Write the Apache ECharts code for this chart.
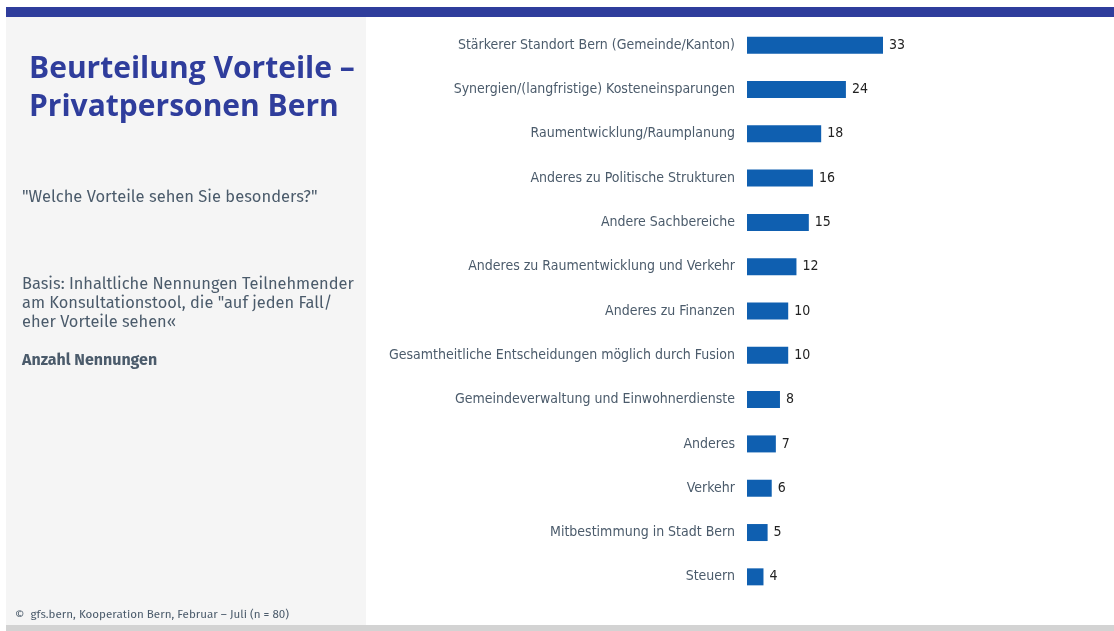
<!DOCTYPE html>
<html>
<head>
<meta charset="utf-8">
<script src="https://cdn.jsdelivr.net/npm/echarts@6/dist/echarts.min.js"></script>
<style>
  html, body { margin: 0; padding: 0; background: #ffffff; }
  #chart { width: 1114px; height: 631px; }
</style>
</head>
<body>
<div id="chart"></div>
<script>
// Mentioned advantages (number of mentions), top to bottom
const categories = [
  'Stärkerer Standort Bern (Gemeinde/Kanton)',
  'Synergien/(langfristige) Kosteneinsparungen',
  'Raumentwicklung/Raumplanung',
  'Anderes zu Politische Strukturen',
  'Andere Sachbereiche',
  'Anderes zu Raumentwicklung und Verkehr',
  'Anderes zu Finanzen',
  'Gesamtheitliche Entscheidungen möglich durch Fusion',
  'Gemeindeverwaltung und Einwohnerdienste',
  'Anderes',
  'Verkehr',
  'Mitbestimmung in Stadt Bern',
  'Steuern'
];
const mentions = [33, 24, 18, 16, 15, 12, 10, 10, 8, 7, 6, 5, 4];

const titleLines = ['Beurteilung Vorteile –', 'Privatpersonen Bern'];
const question = '"Welche Vorteile sehen Sie besonders?"';
const basisLines = [
  'Basis: Inhaltliche Nennungen Teilnehmender',
  'am Konsultationstool, die "auf jeden Fall/',
  'eher Vorteile sehen«'
];
const unitLabel = 'Anzahl Nennungen';
const sourceNote = '©  gfs.bern, Kooperation Bern, Februar – Juli (n = 80)';

const chart = echarts.init(document.getElementById('chart'), null, { renderer: 'canvas' });

const textColor = '#4b5b6b';
const navy = '#2f3d9c';
const barColor = '#0f5fb0';
const narrow = '"Liberation Sans Narrow", "DejaVu Sans Condensed", sans-serif';
const bodyFont = '"Fira Sans", "Open Sans", "Noto Sans", sans-serif';

chart.setOption({
  animation: false,
  backgroundColor: '#ffffff',
  graphic: [
    // side panel, top band and bottom band
    { type: 'rect', left: 6, top: 17, shape: { width: 360, height: 608 }, style: { fill: '#f5f5f5' }, z: -10 },
    { type: 'rect', left: 6, top: 7, shape: { width: 1108, height: 10 }, style: { fill: navy }, z: -9 },
    { type: 'rect', left: 6, top: 625, shape: { width: 1108, height: 6 }, style: { fill: '#d3d3d3' }, z: -9 },
    { type: 'text', left: 29, top: 50, style: { text: titleLines.join('\n'), fill: navy, font: 'bold 30px "Open Sans", sans-serif', lineHeight: 38 } },
    { type: 'text', left: 22, top: 189, style: { text: question, fill: textColor, font: '16.5px ' + bodyFont } },
    { type: 'text', left: 22, top: 275, style: { text: basisLines.join('\n'), fill: textColor, font: '16.4px ' + bodyFont, lineHeight: 19 } },
    { type: 'text', left: 22, top: 353, style: { text: unitLabel, fill: textColor, font: 'bold 16px ' + bodyFont } },
    { type: 'text', left: 15, top: 609, style: { text: sourceNote, fill: textColor, font: '11.6px ' + bodyFont } }
  ],
  grid: { left: 747, top: 23, width: 136, height: 576, containLabel: false },
  xAxis: {
    type: 'value', min: 0, max: 33, show: false
  },
  yAxis: {
    type: 'category', data: categories, inverse: true,
    axisLine: { show: false }, axisTick: { show: false }, splitLine: { show: false },
    axisLabel: { margin: 12, color: textColor, fontSize: 14, fontFamily: narrow }
  },
  series: [{
    type: 'bar', data: mentions, barWidth: 17,
    itemStyle: { color: barColor },
    label: { show: true, position: 'right', distance: 6, color: '#222222', fontSize: 14, fontFamily: narrow }
  }]
});
</script>
</body>
</html>
